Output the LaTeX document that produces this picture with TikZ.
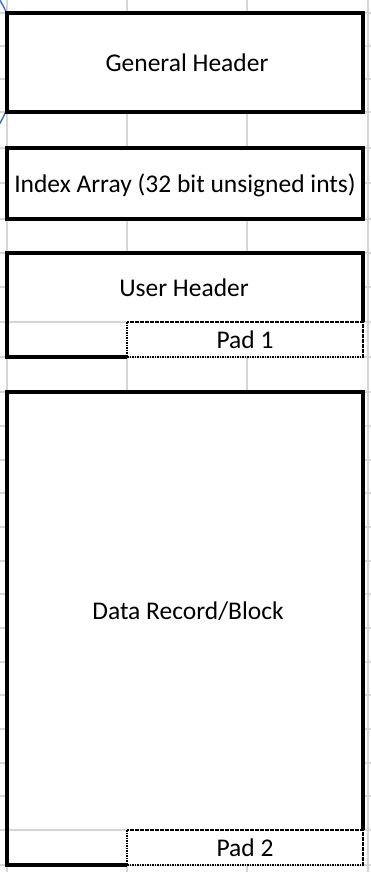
\documentclass[tikz,border=0pt]{standalone}
\usepackage{xcolor}
\usepackage{fontspec}
\setmainfont{Carlito}
\definecolor{gridgray}{HTML}{D6D6D6}
\definecolor{linkblue}{HTML}{4472C4}

\begin{document}
\begin{tikzpicture}[x = 1pt, y = -1pt, font = \fontsize{25.5}{30}\selectfont,
	gridline/.style = {gridgray, line width = 1.5pt},
	cellborder/.style = {draw = black, line width = 4pt},
	padborder/.style = {draw = black, line width = 1.2pt, dash pattern = on 1.6pt off 0.9pt}]
	\useasboundingbox (0,0) rectangle (371,872);
	\foreach \y in {13,46,79,112,148,183,219,253,287,322,357,392,426,460,493,527,561,594,628,662,695,729,763,796,830,865}
		\draw[gridline] (0,\y) -- (371,\y);
	\foreach \x in {7,127,247,368}
		\draw[gridline] (\x,0) -- (\x,872);
	\draw[linkblue, line width = 1.5pt] (-3,-4) .. controls (22,30) and (22,90) .. (-3,128);
	\filldraw[cellborder, fill = white] (7,13) rectangle (363,112);
	\filldraw[cellborder, fill = white] (7,148) rectangle (363,219);
	\fill[white] (7,253) rectangle (363,357);
	\draw[gridline] (7,322) -- (127,322);
	\draw[cellborder] (127,357) -- (7,357) -- (7,253) -- (363,253) -- (363,322);
	\draw[padborder] (127,322) rectangle (363,357);
	\fill[white] (7,392) rectangle (363,865);
	\draw[gridline] (7,830) -- (127,830);
	\draw[cellborder] (127,865) -- (7,865) -- (7,392) -- (363,392) -- (363,830);
	\draw[padborder] (127,830) rectangle (363,865);
	\node (genhdr) at (187,63) {General Header};
	\node (idxarr) at (185,185) {Index Array (32 bit unsigned ints)};
	\node (usrhdr) at (184,288) {User Header};
	\node (padone) at (245,340) {Pad 1};
	\node (datarec) at (188,611) {Data Record/Block};
	\node (padtwo) at (245,848) {Pad 2};
\end{tikzpicture}
\end{document}
